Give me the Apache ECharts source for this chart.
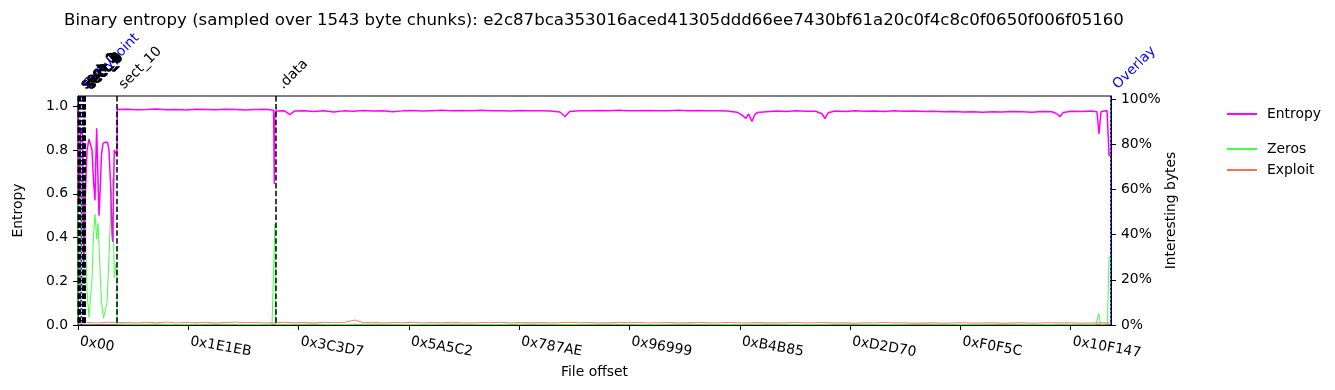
<!DOCTYPE html>
<html><head><meta charset="utf-8">
<script src="https://cdn.jsdelivr.net/npm/echarts@6/dist/echarts.min.js"></script>
<style>html,body{margin:0;padding:0;background:#fff}#c{width:1335px;height:390px}</style>
</head><body><div id="c"></div>
<script>
const titleText = 'Binary entropy (sampled over 1543 byte chunks): e2c87bca353016aced41305ddd66ee7430bf61a20c0f4c8c0f0650f006f05160';
const xTickLabels = ['0x00','0x1E1EB','0x3C3D7','0x5A5C2','0x787AE','0x96999','0xB4B85','0xD2D70','0xF0F5C','0x10F147'];
const xTickStep = 123371.5;
const xMax = 1155400;
const leftMax = 1.047;
const rightMax = 1.014;
const leftTicks = [0, 0.2, 0.4, 0.6, 0.8, 1.0];
const rightTicks = [0, 0.2, 0.4, 0.6, 0.8, 1.0];

const sectionNames = ['sect_0','sect_1','sect_2','sect_3','Entrypoint','sect_4','sect_5','sect_6','sect_7','sect_8','sect_9','sect_10','.data','Overlay'];
const sectionOffsets = [224, 1007, 1790, 2573, 3803, 5145, 5816, 6487, 7047, 7606, 8053, 43622, 221463, 1155100];

const entropyPoints = [
 [0,0.99],[1100,0.99],[1700,0.555],[2800,0.9],[5000,0.87],[6487,0.28],[7270,0.38],[8389,0.62],
 [10067,0.8],[12304,0.85],[13981,0.857],[15659,0.8],[17337,0.66],[19015,0.57],[19910,0.75],[20916,0.9],
 [21811,0.75],[23489,0.5],[24607,0.6],[26285,0.78],[27963,0.83],[30200,0.835],[32996,0.836],[34674,0.8],
 [36352,0.65],[38029,0.42],[38812,0.38],[39707,0.6],[40602,0.8],[42503,0.805],[43062,0.78],[43622,0.8],
 [43957,0.985],[55000,0.986],[66000,0.984],[77000,0.985],[88000,0.987],[99000,0.984],[110000,0.985],
 [121000,0.983],[132000,0.986],[143000,0.985],[154000,0.984],[165000,0.986],[176000,0.985],[187000,0.983],
 [198000,0.985],[209000,0.986],[218800,0.982],[219600,0.645],[220100,0.94],[221000,0.978],[231000,0.979],
 [237100,0.962],[242000,0.978],[253000,0.98],[264000,0.976],[275000,0.98],[286000,0.974],[297000,0.979],
 [308000,0.977],[319000,0.981],[330000,0.978],[341000,0.98],[352000,0.975],[363000,0.979],[374000,0.981],
 [385000,0.978],[396000,0.98],[407000,0.982],[418000,0.979],[429000,0.981],[440000,0.98],[451000,0.982],
 [462000,0.979],[473000,0.98],[484000,0.978],[495000,0.981],[506000,0.979],[517000,0.98],[528000,0.978],
 [539000,0.974],[544700,0.953],[550000,0.976],[561000,0.98],[572000,0.979],[583000,0.981],[594000,0.98],
 [605000,0.982],[616000,0.979],[627000,0.98],[638000,0.981],[649000,0.979],[660000,0.98],[671000,0.982],
 [682000,0.98],[693000,0.981],[704000,0.979],[715000,0.98],[726000,0.978],[737000,0.973],[742000,0.962],
 [747000,0.945],[750000,0.965],[753900,0.93],[757000,0.962],[760000,0.972],[770000,0.975],[781000,0.978],
 [792000,0.976],[803000,0.979],[814000,0.977],[825000,0.977],[832000,0.966],[835500,0.944],[839000,0.97],
 [847000,0.978],[858000,0.976],[869000,0.979],[880000,0.977],[891000,0.978],[902000,0.976],[913000,0.979],
 [924000,0.977],[935000,0.978],[946000,0.976],[957000,0.977],[968000,0.975],[979000,0.976],[990000,0.974],
 [1001000,0.975],[1012000,0.973],[1023000,0.975],[1034000,0.974],[1045000,0.976],[1056000,0.975],
 [1067000,0.973],[1078000,0.976],[1089000,0.975],[1094000,0.968],[1098400,0.953],[1102000,0.972],
 [1111000,0.977],[1122000,0.976],[1133000,0.978],[1139700,0.975],[1141990,0.874],[1144200,0.975],
 [1148000,0.978],[1151000,0.98],[1152400,0.975],[1153200,0.775],[1154600,0.776]
];

const zerosPoints = [
 [0,0],[300,0.54],[1100,0.54],[1700,0.2],[2800,0.1],[4500,0.6],[5300,0.82],[6500,0.7],[8400,0.4],
 [10067,0.15],[12304,0.035],[13500,0.04],[15659,0.2],[17337,0.4],[19015,0.49],[20300,0.42],[20916,0.38],
 [22370,0.45],[24048,0.3],[26285,0.1],[28522,0.03],[30535,0.03],[32437,0.1],[34674,0.3],[36910,0.55],
 [38924,0.65],[39707,0.4],[40602,0.21],[42503,0.27],[43398,0.25],[43845,0.004],[66000,0.003],[88000,0.004],
 [110000,0.002],[132000,0.003],[154000,0.004],[176000,0.003],[198000,0.002],[217000,0.003],[220300,0.447],
 [220900,0.003],[242000,0.003],[264000,0.004],[286000,0.002],[308000,0.003],[330000,0.004],[352000,0.003],
 [374000,0.002],[396000,0.003],[418000,0.004],[440000,0.003],[462000,0.002],[484000,0.003],[506000,0.004],
 [528000,0.003],[550000,0.002],[572000,0.003],[594000,0.004],[616000,0.003],[638000,0.002],[660000,0.003],
 [682000,0.004],[704000,0.003],[726000,0.002],[748000,0.003],[770000,0.004],[792000,0.003],[814000,0.002],
 [836000,0.003],[858000,0.004],[880000,0.003],[902000,0.002],[924000,0.003],[946000,0.004],[968000,0.003],
 [990000,0.002],[1012000,0.003],[1034000,0.004],[1056000,0.003],[1078000,0.002],[1100000,0.003],
 [1122000,0.003],[1138500,0.003],[1141900,0.05],[1143500,0.003],[1151500,0.005],[1153200,0.3],[1154600,0.3]
];

const exploitPoints = [
 [0,0.01],[5000,0.008],[11000,0.011],[22000,0.009],[33000,0.012],[44000,0.01],[55000,0.011],[66000,0.009],
 [77000,0.012],[88000,0.01],[99000,0.013],[110000,0.009],[121000,0.011],[132000,0.01],[143000,0.012],
 [154000,0.009],[165000,0.011],[176000,0.013],[187000,0.01],[198000,0.011],[209000,0.009],[220000,0.01],
 [231000,0.012],[242000,0.01],[253000,0.011],[264000,0.009],[275000,0.012],[286000,0.01],[297000,0.011],
 [309800,0.022],[319000,0.01],[330000,0.012],[341000,0.009],[352000,0.011],[363000,0.01],[374000,0.012],
 [385000,0.009],[396000,0.011],[407000,0.01],[418000,0.012],[429000,0.01],[440000,0.009],[451000,0.011],
 [462000,0.01],[473000,0.012],[484000,0.009],[495000,0.011],[506000,0.01],[517000,0.011],[528000,0.009],
 [539000,0.01],[550000,0.012],[561000,0.01],[572000,0.011],[583000,0.009],[594000,0.01],[605000,0.012],
 [616000,0.01],[627000,0.011],[638000,0.009],[649000,0.01],[660000,0.011],[671000,0.009],[682000,0.01],
 [693000,0.012],[704000,0.01],[715000,0.009],[726000,0.011],[737000,0.01],[748000,0.009],[759000,0.011],
 [770000,0.01],[781000,0.009],[792000,0.01],[803000,0.011],[814000,0.009],[825000,0.01],[836000,0.011],
 [847000,0.009],[858000,0.01],[869000,0.008],[880000,0.01],[891000,0.009],[902000,0.011],[913000,0.009],
 [924000,0.01],[935000,0.008],[946000,0.009],[957000,0.01],[968000,0.008],[979000,0.009],[990000,0.01],
 [1001000,0.008],[1012000,0.009],[1023000,0.01],[1034000,0.008],[1045000,0.009],[1056000,0.01],
 [1067000,0.008],[1078000,0.009],[1089000,0.01],[1100000,0.009],[1111000,0.01],[1122000,0.008],
 [1133000,0.009],[1144000,0.01],[1155000,0.009]
];

const FONT = 'DejaVu Sans';
const FS = 13.9;
const chart = echarts.init(document.getElementById('c'), null, {renderer: 'canvas'});
const xTickValues = xTickLabels.map((_, i) => i * xTickStep);
const special = n => n === 'Entrypoint' || n === 'Overlay';

chart.setOption({
  animation: false,
  backgroundColor: '#fff',
  title: {
    text: titleText, left: 589, top: 7, textAlign: 'center',
    textStyle: {fontFamily: FONT, fontSize: 16.6, fontWeight: 'normal', color: '#000'}
  },
  grid: {left: 78, right: 224, top: 96, bottom: 65, show: true, borderColor: '#000', borderWidth: 1, containLabel: false},
  legend: [
    {data: ['Entropy'], orient: 'vertical', left: 1226, top: 107, padding: 0, itemWidth: 30, itemHeight: 14,
     itemStyle: {opacity: 0},
     textStyle: {fontFamily: FONT, fontSize: FS, color: '#000', padding: [0, 0, 0, 5]}},
    {data: ['Zeros', 'Exploit'], orient: 'vertical', left: 1226, top: 142, padding: 0, itemWidth: 30, itemHeight: 14, itemGap: 7,
     itemStyle: {opacity: 0},
     textStyle: {fontFamily: FONT, fontSize: FS, color: '#000', padding: [0, 0, 0, 5]}}
  ],
  xAxis: {
    type: 'value', min: 0, max: xMax,
    name: 'File offset', nameLocation: 'middle', nameGap: 40, nameMoveOverlap: false,
    nameTextStyle: {fontFamily: FONT, fontSize: FS, color: '#000'},
    axisLine: {show: true, lineStyle: {color: '#000', width: 1}},
    axisTick: {show: true, length: 5, lineStyle: {color: '#000'}, customValues: xTickValues},
    axisLabel: {
      customValues: xTickValues, rotate: -10, margin: 16, padding: [0, 0, 0, 2],
      fontFamily: FONT, fontSize: FS, color: '#000',
      formatter: v => { const i = Math.round(v / xTickStep); return xTickLabels[i] || ''; }
    },
    splitLine: {show: false}
  },
  yAxis: [
    {
      type: 'value', min: 0, max: leftMax, position: 'left',
      name: 'Entropy', nameLocation: 'middle', nameGap: 53, nameRotate: 90, nameMoveOverlap: false,
      nameTextStyle: {fontFamily: FONT, fontSize: FS, color: '#000'},
      axisLine: {show: true, lineStyle: {color: '#000', width: 1}},
      axisTick: {show: true, length: 5, lineStyle: {color: '#000'}, customValues: leftTicks},
      axisLabel: {customValues: leftTicks, fontFamily: FONT, fontSize: FS, color: '#000', margin: 10,
        formatter: v => v.toFixed(1)},
      splitLine: {show: false}
    },
    {
      type: 'value', min: 0, max: rightMax, position: 'right',
      name: 'Interesting bytes', nameLocation: 'middle', nameGap: 53, nameRotate: 90, nameMoveOverlap: false,
      nameTextStyle: {fontFamily: FONT, fontSize: FS, color: '#000'},
      axisLine: {show: true, lineStyle: {color: '#000', width: 1}},
      axisTick: {show: true, length: 5, lineStyle: {color: '#000'}, customValues: rightTicks},
      axisLabel: {customValues: rightTicks, fontFamily: FONT, fontSize: FS, color: '#000', margin: 10,
        formatter: v => Math.round(v * 100) + '%'},
      splitLine: {show: false}
    }
  ],
  series: [
    {name: 'Entropy', type: 'line', yAxisIndex: 0, data: entropyPoints, symbol: 'none', showSymbol: false,
     color: '#ff00ff', lineStyle: {color: '#ff00ff', width: 1.5}, z: 4},
    {name: 'Zeros', type: 'line', yAxisIndex: 1, data: zerosPoints, symbol: 'none', showSymbol: false,
     color: '#44ff44', lineStyle: {color: '#44ff44', width: 1}, z: 3},
    {name: 'Exploit', type: 'line', yAxisIndex: 1, data: exploitPoints, symbol: 'none', showSymbol: false,
     color: '#f4734f', lineStyle: {color: '#f4734f', width: 0.9}, z: 3},
    {
      type: 'custom', coordinateSystem: 'cartesian2d', xAxisIndex: 0, yAxisIndex: 0, clip: false, silent: true, z: 10,
      data: sectionOffsets.map(o => [o, 0]),
      encode: {x: 0, y: 1},
      renderItem: (params, api) => {
        const i = params.dataIndex;
        const name = sectionNames[i];
        const off = api.value(0);
        const top = api.coord([off, leftMax]);
        const bot = api.coord([off, 0]);
        const sp = special(name);
        const col = sp ? '#0000ff' : '#000000';
        return {type: 'group', children: [
          {type: 'line', shape: {x1: top[0], y1: top[1], x2: bot[0], y2: bot[1]},
           style: {stroke: col, lineWidth: 1.5, lineDash: sp ? [1.5, 2.5] : [5.5, 2.4]}},
          {type: 'text', x: top[0] + 9.5, y: top[1] - 4, rotation: Math.PI / 4,
           style: {text: name, fill: col, font: FS + 'px "' + FONT + '"', align: 'left', verticalAlign: 'bottom'}}
        ]};
      }
    }
  ]
});
</script></body></html>
